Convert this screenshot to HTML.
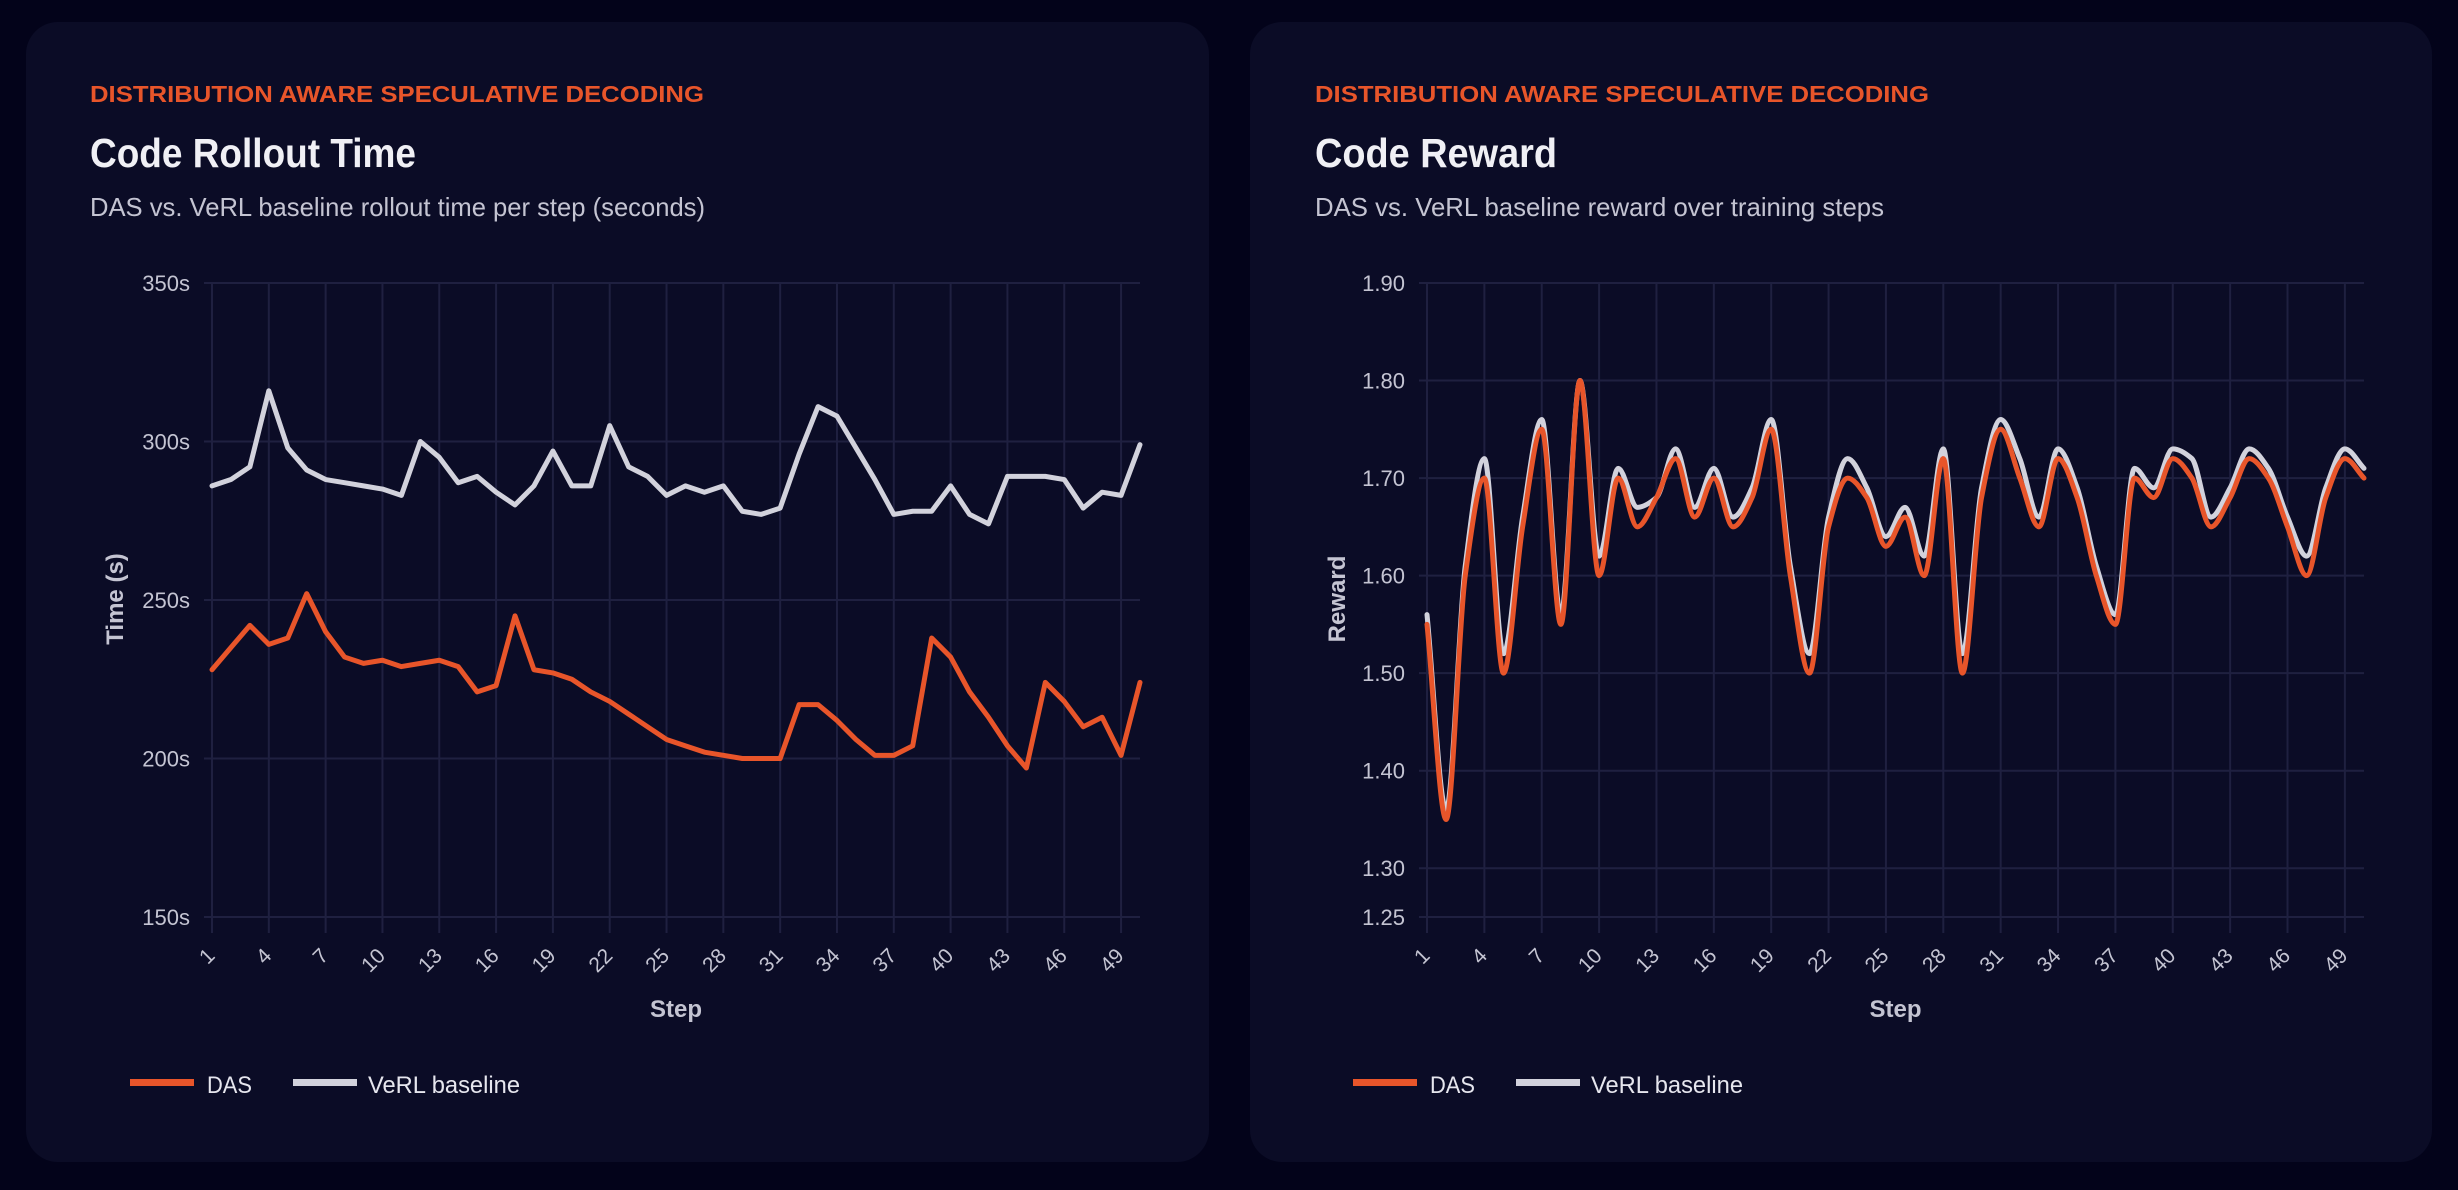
<!DOCTYPE html>
<html><head><meta charset="utf-8">
<style>
html,body{margin:0;padding:0;background:#03031a;}
svg{display:block;font-family:"Liberation Sans",sans-serif;}
</style></head>
<body>
<svg id="page" width="2458" height="1190" viewBox="0 0 2458 1190" xmlns="http://www.w3.org/2000/svg">
<rect x="0" y="0" width="2458" height="1190" fill="#03031a"/>
<g id="card1">
<rect x="26" y="22" width="1183" height="1140" rx="32" fill="#0b0c26"/>
<text x="90" y="102" font-size="23" font-weight="bold" fill="#e8552a" textLength="614" lengthAdjust="spacingAndGlyphs">DISTRIBUTION AWARE SPECULATIVE DECODING</text>
<text x="90" y="167" font-size="41" font-weight="bold" fill="#f0f0f5" textLength="326" lengthAdjust="spacingAndGlyphs">Code Rollout Time</text>
<text x="90" y="216" font-size="26" fill="#c4c4d2" textLength="615" lengthAdjust="spacingAndGlyphs">DAS vs. VeRL baseline rollout time per step (seconds)</text>
</g>
<g id="card2">
<rect x="1250" y="22" width="1182" height="1140" rx="32" fill="#0b0c26"/>
<text x="1315" y="102" font-size="23" font-weight="bold" fill="#e8552a" textLength="614" lengthAdjust="spacingAndGlyphs">DISTRIBUTION AWARE SPECULATIVE DECODING</text>
<text x="1315" y="167" font-size="41" font-weight="bold" fill="#f0f0f5" textLength="242" lengthAdjust="spacingAndGlyphs">Code Reward</text>
<text x="1315" y="216" font-size="26" fill="#c4c4d2" textLength="569" lengthAdjust="spacingAndGlyphs">DAS vs. VeRL baseline reward over training steps</text>
</g>
<g id="chart1"></g>
<g id="chart2"></g>
</svg>
<script>
const steps = Array.from({length:50},(_,i)=>i+1);
const timeDAS = [228,235,242,236,238,252,240,232,230,231,229,230,231,229,221,223,245,228,227,225,221,218,214,210,206,204,202,201,200,200,200,217,217,212,206,201,201,204,238,232,221,213,204,197,224,218,210,213,201,224];
const timeVeRL = [286,288,292,316,298,291,288,287,286,285,283,300,295,287,289,284,280,286,297,286,286,305,292,289,283,286,284,286,278,277,279,296,311,308,298,288,277,278,278,286,277,274,289,289,289,288,279,284,283,299];
const timeTicks = [150,200,250,300,350];
const timeTickLabels = ["150s","200s","250s","300s","350s"];
const rewardDAS = [1.55,1.35,1.60,1.70,1.50,1.65,1.75,1.55,1.80,1.60,1.70,1.65,1.68,1.72,1.66,1.70,1.65,1.68,1.75,1.60,1.50,1.65,1.70,1.68,1.63,1.66,1.60,1.72,1.50,1.68,1.75,1.70,1.65,1.72,1.68,1.60,1.55,1.70,1.68,1.72,1.70,1.65,1.68,1.72,1.70,1.65,1.60,1.68,1.72,1.70];
const rewardVeRL = [1.56,1.36,1.61,1.72,1.52,1.66,1.76,1.56,1.80,1.62,1.71,1.67,1.68,1.73,1.67,1.71,1.66,1.69,1.76,1.61,1.52,1.66,1.72,1.69,1.64,1.67,1.62,1.73,1.52,1.69,1.76,1.72,1.66,1.73,1.69,1.61,1.56,1.71,1.69,1.73,1.72,1.66,1.69,1.73,1.71,1.66,1.62,1.69,1.73,1.71];
const rewardTicks = [1.25,1.30,1.40,1.50,1.60,1.70,1.80,1.90];
const rewardTickLabels = ["1.25","1.30","1.40","1.50","1.60","1.70","1.80","1.90"];
const xTickSteps = [1,4,7,10,13,16,19,22,25,28,31,34,37,40,43,46,49];

const NS="http://www.w3.org/2000/svg";
function mk(tag,attrs,parent){const e=document.createElementNS(NS,tag);for(const k in attrs)e.setAttribute(k,attrs[k]);parent.appendChild(e);return e;}

function linePath(pts){return pts.map((p,i)=>(i?'L':'M')+p[0].toFixed(2)+','+p[1].toFixed(2)).join('');}
function monoPath(pts){
  const n=pts.length;const dx=[],dy=[],m=[];
  for(let i=0;i<n-1;i++){dx.push(pts[i+1][0]-pts[i][0]);dy.push(pts[i+1][1]-pts[i][1]);m.push(dy[i]/dx[i]);}
  const t=[m[0]];
  for(let i=1;i<n-1;i++){ if(m[i-1]*m[i]<=0)t.push(0); else { const h0=dx[i-1],h1=dx[i]; t.push(3*(h0+h1)/((2*h1+h0)/m[i-1]+(h1+2*h0)/m[i])); } }
  t.push(m[n-2]);
  let d='M'+pts[0][0]+','+pts[0][1];
  for(let i=0;i<n-1;i++){const h=dx[i]/3;d+='C'+(pts[i][0]+h)+','+(pts[i][1]+h*t[i])+' '+(pts[i+1][0]-h)+','+(pts[i+1][1]-h*t[i+1])+' '+pts[i+1][0]+','+pts[i+1][1];}
  return d;
}

function drawChart(g,cfg){
  const xS=s=>cfg.x0+(s-1)*(cfg.x1-cfg.x0)/49;
  const yS=v=>cfg.yBot-(v-cfg.vMin)*(cfg.yBot-cfg.yTop)/(cfg.vMax-cfg.vMin);
  cfg.ticks.forEach((v,i)=>{
    const gl=mk('line',{x1:cfg.x0-8,x2:cfg.x1,y1:yS(v),y2:yS(v),stroke:'#1f2040','stroke-width':2},g);
    
    
    const tl=mk('text',{x:cfg.labelRight,y:yS(v)+8,'text-anchor':'end','font-size':22,fill:'#c4c4d2'},g);
    tl.textContent=cfg.tickLabels[i];
    
    
  });
  xTickSteps.forEach(s=>{
    const vl=mk('line',{x1:xS(s),x2:xS(s),y1:cfg.yTop,y2:cfg.yBot+16,stroke:'#1f2040','stroke-width':2},g);
    
    
    const tx=xS(s)+4, ty=cfg.yBot+40;
    const xl=mk('text',{x:tx,y:ty,'text-anchor':'end','font-size':21,fill:'#c4c4d2',transform:'rotate(-45 '+tx+' '+ty+')'},g);
    xl.textContent=String(s);
    
    
  });
  const yt=mk('text',{x:0,y:0,'text-anchor':'middle','font-size':24,'font-weight':'bold',fill:'#c4c4d2',transform:'translate('+cfg.yTitleX+',599) rotate(-90)'},g);
  yt.textContent=cfg.yTitle;
  
  
  const xt=mk('text',{x:(cfg.x0+cfg.x1)/2,y:1017,'text-anchor':'middle','font-size':24,'font-weight':'bold',fill:'#c4c4d2'},g);
  xt.textContent='Step';
  
  
  const pf=cfg.smooth?monoPath:linePath;
  const p2=mk('path',{d:pf(steps.map((s,i)=>[xS(s),yS(cfg.base[i])])),fill:'none',stroke:'#d2d2dc','stroke-width':5,'stroke-linejoin':'round','stroke-linecap':'round'},g);
  
  
  const p1=mk('path',{d:pf(steps.map((s,i)=>[xS(s),yS(cfg.das[i])])),fill:'none',stroke:'#e8552a','stroke-width':5,'stroke-linejoin':'round','stroke-linecap':'round'},g);
  
  
  const L=cfg.legendX;
  const s1=mk('rect',{x:L,y:1079,width:64,height:7,fill:'#e8552a'},g);
  
  
  const t1=mk('text',{x:L+77,y:1093,'font-size':24,fill:'#e6e6ee',textLength:45,lengthAdjust:'spacingAndGlyphs'},g);
  t1.textContent='DAS';
  
  
  const s2=mk('rect',{x:L+163,y:1079,width:64,height:7,fill:'#d2d2dc'},g);
  
  
  const t2=mk('text',{x:L+238,y:1093,'font-size':24,fill:'#e6e6ee',textLength:152,lengthAdjust:'spacingAndGlyphs'},g);
  t2.textContent='VeRL baseline';
  
  
}

const g1=document.getElementById('chart1');


drawChart(g1,{x0:212,x1:1140,yTop:283,yBot:917,vMin:150,vMax:350,ticks:timeTicks,tickLabels:timeTickLabels,labelRight:190,yTitle:'Time (s)',yTitleX:123,das:timeDAS,base:timeVeRL,smooth:false,legendX:130});
const g2=document.getElementById('chart2');


drawChart(g2,{x0:1427,x1:2364,yTop:283,yBot:917,vMin:1.25,vMax:1.90,ticks:rewardTicks,tickLabels:rewardTickLabels,labelRight:1405,yTitle:'Reward',yTitleX:1345,das:rewardDAS,base:rewardVeRL,smooth:true,legendX:1353});
</script>
</body></html>
